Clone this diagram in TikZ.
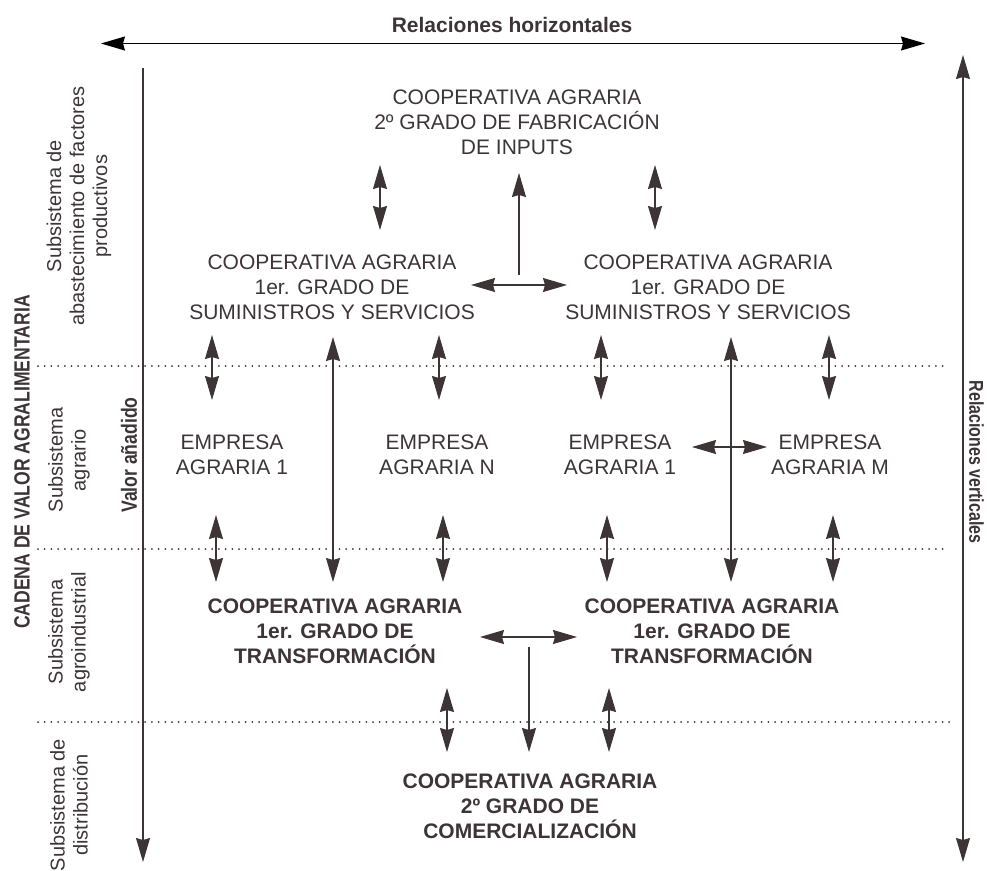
\documentclass[tikz,border=0pt]{standalone}
\usepackage{fontspec}
\setmainfont{Liberation Sans}
\newfontfamily\narrowfont{Liberation Sans}[FakeStretch=0.8]
\usetikzlibrary{arrows.meta,positioning}
\definecolor{ink}{HTML}{3D3436}
\tikzset{
    tip/.style={Stealth[length=24pt,width=14pt,inset=2pt]},
    arr/.style={-{Stealth[length=24pt,width=14pt,inset=2pt]},ink,line width=1.1pt},
    darr/.style={{Stealth[length=24pt,width=14pt,inset=2pt]}-{Stealth[length=24pt,width=14pt,inset=2pt]},ink,line width=1.1pt},
    level line/.style={ink,line width=2pt,line cap=round,dash pattern=on 0pt off 6.7pt},
    coop/.style={align=center,text=ink,inner sep=0pt,font=\fontsize{21}{25}\selectfont},
    coop bold/.style={coop,font=\fontsize{21}{25}\selectfont\bfseries},
    subsystem/.style={rotate=90,align=center,text=ink,inner sep=0pt,font=\fontsize{20}{23}\selectfont},
    axis label/.style={text=ink,inner sep=0pt,font=\narrowfont\bfseries\fontsize{22}{26}\selectfont},
}

\begin{document}
\begin{tikzpicture}[x=1pt,y=-1pt]
    \useasboundingbox (0,0) rectangle (987,870);

    % ejes
    \coordinate (H0) at (101,43.5);
    \coordinate (H1) at (925,43.5);
    \coordinate (V0) at (143,68);
    \coordinate (V1) at (143,862);
    \coordinate (R0) at (963,55);
    \coordinate (R1) at (963,862);
    \draw[darr,black] (H0) -- (H1);
    \draw[arr] (V0) -- (V1);
    \draw[darr] (R0) -- (R1);
    \node[text=ink,inner sep=0pt,font=\fontsize{21}{25}\selectfont\bfseries] (horiz) at (512,24.5) {Relaciones horizontales};
    \node[axis label,rotate=-90,font=\narrowfont\bfseries\fontsize{20}{24}\selectfont] (vert) at (976.5,462) {Relaciones verticales};
    \node[axis label,rotate=90] (valor) at (129,455) {Valor añadido};
    \node[axis label,rotate=90] (cadena) at (22,462) {CADENA DE VALOR AGRALIMENTARIA};

    % subsistemas
    \foreach \y/\e in {366/945,549/945,722/955}
        \draw[level line] (38,\y) -- (\e,\y);
    \node[subsystem] (sub1) at (79,206) {Subsistema de\\abastecimiento de factores\\productivos};
    \node[subsystem] (sub2) at (69,460) {Subsistema\\agrario};
    \node[subsystem] (sub3) at (69,632) {Subsistema\\agroindustrial};
    \node[subsystem] (sub4) at (69,805) {Subsistema de\\distribución};

    % cooperativas y empresas
    \node[coop] (fab) at (517,122) {COOPERATIVA AGRARIA\\2º GRADO DE FABRICACIÓN\\DE INPUTS};
    \node[coop] (supL) at (332,287) {COOPERATIVA AGRARIA\\1er. GRADO DE\\SUMINISTROS Y SERVICIOS};
    \node[coop] (supR) at (708,287) {COOPERATIVA AGRARIA\\1er. GRADO DE\\SUMINISTROS Y SERVICIOS};
    \node[coop] (empA) at (232,455) {EMPRESA\\AGRARIA 1};
    \node[coop] (empN) at (437,455) {EMPRESA\\AGRARIA N};
    \node[coop] (empB) at (620,455) {EMPRESA\\AGRARIA 1};
    \node[coop] (empM) at (830,455) {EMPRESA\\AGRARIA M};
    \node[coop bold] (trL) at (335,631) {COOPERATIVA AGRARIA\\1er. GRADO DE\\TRANSFORMACIÓN};
    \node[coop bold] (trR) at (712,631) {COOPERATIVA AGRARIA\\1er. GRADO DE\\TRANSFORMACIÓN};
    \node[coop bold] (com) at (530,806) {COOPERATIVA AGRARIA\\2º GRADO DE\\COMERCIALIZACIÓN};

    % relaciones verticales
    \foreach \x [count=\i] in {380,655} {
        \coordinate (fs\i a) at (\x,165);
        \coordinate (fs\i b) at (\x,230);
        \draw[darr] (fs\i a) -- (fs\i b);
    }
    \foreach \x [count=\i] in {212,439,601,829} {
        \coordinate (se\i a) at (\x,335);
        \coordinate (se\i b) at (\x,400);
        \draw[darr] (se\i a) -- (se\i b);
    }
    \foreach \x [count=\i] in {333,731} {
        \coordinate (st\i a) at (\x,337);
        \coordinate (st\i b) at (\x,582);
        \draw[darr] (st\i a) -- (st\i b);
    }
    \foreach \x [count=\i] in {216,443,607,833} {
        \coordinate (et\i a) at (\x,515);
        \coordinate (et\i b) at (\x,582);
        \draw[darr] (et\i a) -- (et\i b);
    }
    \foreach \x [count=\i] in {447,609} {
        \coordinate (tc\i a) at (\x,688);
        \coordinate (tc\i b) at (\x,752);
        \draw[darr] (tc\i a) -- (tc\i b);
    }
    \coordinate (upA) at (519,275);
    \coordinate (upB) at (519,173);
    \draw[arr] (upA) -- (upB);
    \coordinate (dnA) at (529,647);
    \coordinate (dnB) at (529,752);
    \draw[arr] (dnA) -- (dnB);

    % relaciones horizontales
    \coordinate (sh1) at (471,285);
    \coordinate (sh2) at (567,285);
    \draw[darr] (sh1) -- (sh2);
    \coordinate (eh1) at (692,447);
    \coordinate (eh2) at (767,447);
    \draw[darr] (eh1) -- (eh2);
    \coordinate (th1) at (480,637);
    \coordinate (th2) at (577,637);
    \draw[darr] (th1) -- (th2);
\end{tikzpicture}
\end{document}
